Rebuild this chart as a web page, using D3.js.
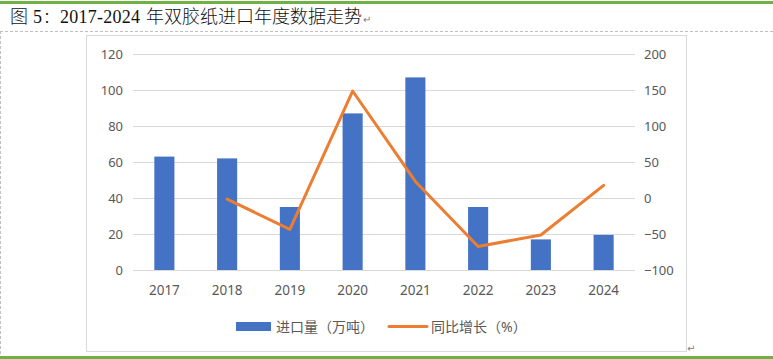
<!DOCTYPE html>
<html>
<head>
<meta charset="utf-8">
<script src="https://cdn.jsdelivr.net/npm/d3@7"></script>
<style>
  body { margin: 0; background: #fff; }
  svg { display: block; }
</style>
</head>
<body>
<div id="chart"></div>
<script>
// data
const years = ["2017", "2018", "2019", "2020", "2021", "2022", "2023", "2024"];
const importVolume = [63, 62, 35, 87, 107, 35, 17, 19.5];     // 万吨
const yoyGrowth = [null, -1.6, -43.5, 148.6, 23, -67.3, -51.4, 17.6]; // %
const leftTicks = [0, 20, 40, 60, 80, 100, 120];
const rightTicks = [-100, -50, 0, 50, 100, 150, 200];

const W = 773, H = 359;
const plot = {left: 133, right: 635, top: 54, bottom: 270};
const textColor = "#595959";
const font = "'Noto Sans', 'Noto Sans CJK SC', sans-serif";

const svg = d3.select("#chart").append("svg")
    .attr("width", W)
    .attr("height", H);

// page decoration (green rules, dashed frame)
svg.append("rect").attr("x", 0).attr("y", 1).attr("width", W).attr("height", 3).attr("fill", "#70B044");
svg.append("rect").attr("x", 0).attr("y", 356).attr("width", W).attr("height", 3).attr("fill", "#70B044");
svg.append("line")
    .attr("x1", 0).attr("x2", W).attr("y1", 31.5).attr("y2", 31.5)
    .attr("stroke", "#BFBFBF").attr("stroke-dasharray", "3,2");
svg.append("line")
    .attr("x1", 0.5).attr("x2", 0.5).attr("y1", 31).attr("y2", 356)
    .attr("stroke", "#BFBFBF").attr("stroke-dasharray", "3,2");

// title
const title = svg.append("text")
    .attr("y", 23)
    .attr("font-family", "'Liberation Serif', 'Noto Sans CJK SC', serif")
    .attr("font-size", 18)
    .attr("font-weight", 300)
    .attr("fill", "#111");
title.append("tspan").attr("x", 10).text("图");
title.append("tspan").attr("x", 33).text("5");
title.append("tspan").attr("x", 43).attr("font-size", 16).text("：");
title.append("tspan").attr("x", 60).attr("textLength", 80).attr("lengthAdjust", "spacing").text("2017-2024");
title.append("tspan").attr("x", 146).attr("textLength", 216).attr("lengthAdjust", "spacing").text("年双胶纸进口年度数据走势");
title.append("tspan").attr("x", 363).attr("font-size", 10).attr("fill", "#808080").attr("font-family", "'DejaVu Sans'").text("↵");

// chart frame
svg.append("rect")
    .attr("x", 86.5).attr("y", 35.5)
    .attr("width", 600).attr("height", 316)
    .attr("fill", "none")
    .attr("stroke", "#D9D9D9");
svg.append("text")
    .attr("x", 687).attr("y", 352)
    .attr("font-size", 10).attr("fill", "#808080")
    .attr("font-family", "'DejaVu Sans'")
    .text("↵");

// scales
const x = d3.scaleBand()
    .domain(years)
    .range([plot.left, plot.right])
    .paddingInner(0.68)
    .paddingOuter(0.34);

const yLeft = d3.scaleLinear().domain([0, 120]).range([plot.bottom, plot.top]);
const yRight = d3.scaleLinear().domain([-100, 200]).range([plot.bottom, plot.top]);

// gridlines
svg.append("g")
    .selectAll("line")
    .data(leftTicks)
    .enter().append("line")
        .attr("x1", plot.left)
        .attr("x2", plot.right)
        .attr("y1", (d) => Math.round(yLeft(d)) + 0.5)
        .attr("y2", (d) => Math.round(yLeft(d)) + 0.5)
        .attr("stroke", "#D9D9D9")
        .attr("stroke-width", 1);

// left axis
const leftAxis = svg.append("g")
    .attr("transform", `translate(${plot.left - 10}, 0)`)
    .call(d3.axisLeft(yLeft).tickValues(leftTicks).tickSize(0).tickPadding(0));
leftAxis.select(".domain").remove();

// right axis
const rightAxis = svg.append("g")
    .attr("transform", `translate(${plot.right + 9}, 0)`)
    .call(d3.axisRight(yRight).tickValues(rightTicks).tickSize(0).tickPadding(0));
rightAxis.select(".domain").remove();

// bottom axis (labels only)
const bottomAxis = svg.append("g")
    .attr("transform", `translate(0, ${plot.bottom})`)
    .call(d3.axisBottom(x).tickSize(0).tickPadding(15));
bottomAxis.select(".domain").remove();

svg.selectAll(".tick text")
    .attr("font-family", font)
    .attr("font-size", 13)
    .attr("fill", textColor);
bottomAxis.selectAll(".tick text").attr("font-size", 13.5);

// bars
svg.append("g")
    .selectAll("rect")
    .data(years)
    .enter().append("rect")
        .attr("x", (d) => x(d))
        .attr("width", x.bandwidth())
        .attr("y", (d, i) => yLeft(importVolume[i]))
        .attr("height", (d, i) => yLeft(0) - yLeft(importVolume[i]))
        .attr("fill", "#4472C4");

// growth line
const linePts = years
    .map((d, i) => ({year: d, v: yoyGrowth[i]}))
    .filter((d) => d.v !== null);

const line = d3.line()
    .x((d) => x(d.year) + x.bandwidth() / 2)
    .y((d) => yRight(d.v));

svg.append("path")
    .datum(linePts)
    .attr("d", line)
    .attr("fill", "none")
    .attr("stroke", "#ED7D31")
    .attr("stroke-width", 3)
    .attr("stroke-linejoin", "round")
    .attr("stroke-linecap", "round");

// legend
const legend = svg.append("g").attr("font-family", font).attr("font-size", 14).attr("fill", textColor);
legend.append("rect")
    .attr("x", 236).attr("y", 322)
    .attr("width", 35).attr("height", 9)
    .attr("fill", "#4472C4");
legend.append("text")
    .attr("x", 276).attr("y", 331.5)
    .text("进口量（万吨）");
legend.append("line")
    .attr("x1", 389).attr("x2", 427)
    .attr("y1", 326.5).attr("y2", 326.5)
    .attr("stroke", "#ED7D31")
    .attr("stroke-width", 3)
    .attr("stroke-linecap", "round");
legend.append("text")
    .attr("x", 431).attr("y", 331.5)
    .text("同比增长（%）");
</script>
</body>
</html>
